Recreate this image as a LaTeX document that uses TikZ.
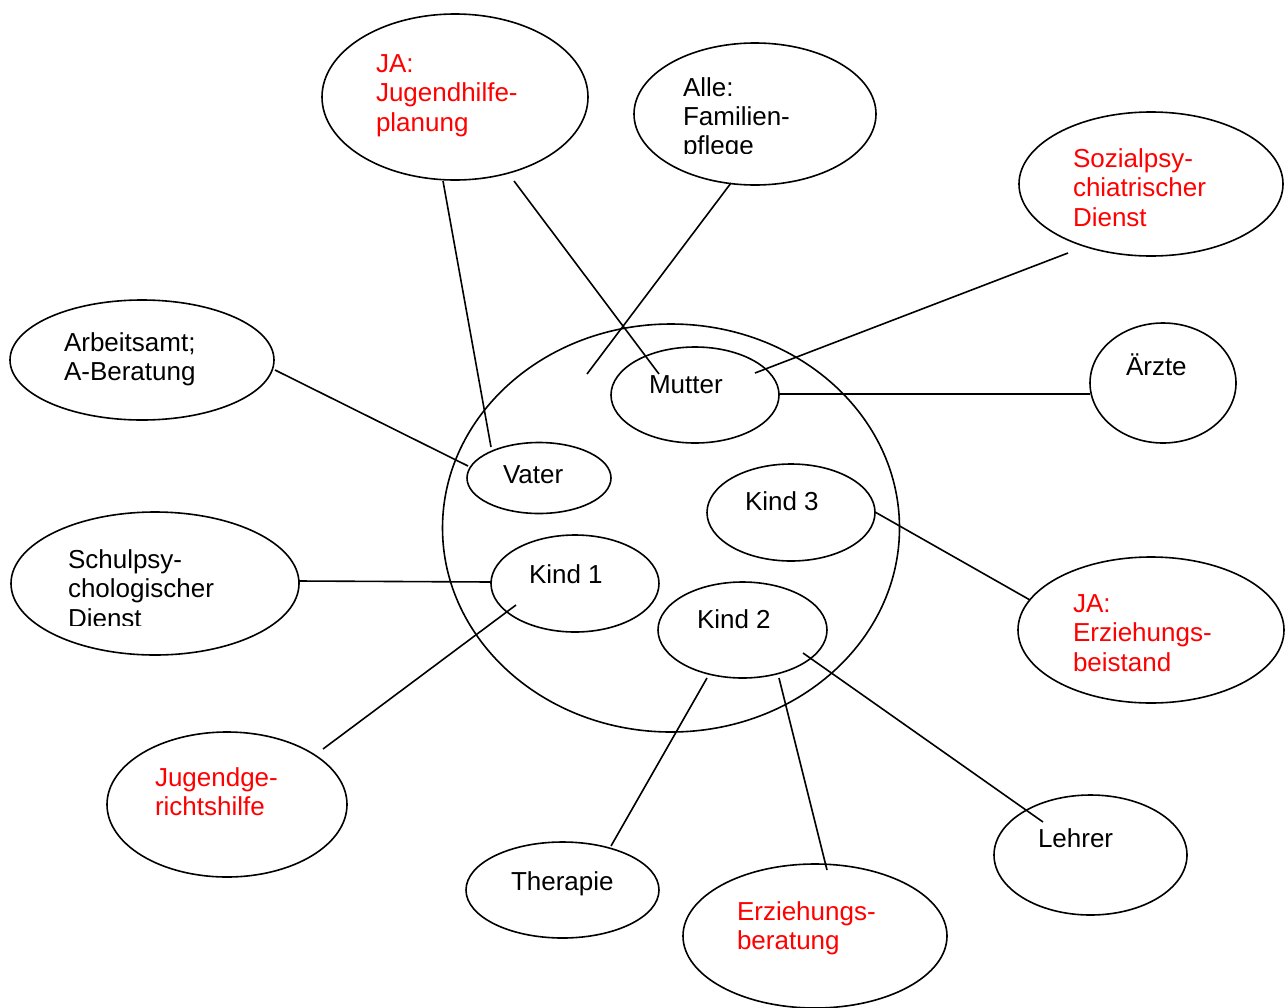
\documentclass[tikz,border=0pt]{standalone}
\usepackage{fontspec}
\setmainfont{Liberation Sans}
\usetikzlibrary{shapes.geometric}
\definecolor{lblred}{RGB}{255,0,0}
\newcommand\mylines[1]{\parbox[t]{400pt}{\raggedright #1}}
\tikzset{
  oval/.style={draw=black, line width=1.6pt, ellipse, inner sep=0pt, outer sep=0pt},
  conn/.style={draw=black, line width=1.6pt},
  lbl/.style={anchor=base west, inner sep=0pt, outer sep=0pt, font=\fontsize{26}{29.5}\selectfont},
  redlbl/.style={lbl, text=lblred},
}
\begin{document}
\begin{tikzpicture}[x=1pt, y=-1pt]
\useasboundingbox (0,0) rectangle (1285,1007);
% ellipses
\node[oval, minimum width=266pt, minimum height=166pt] (ja) at (455,97) {};
\node[oval, minimum width=242pt, minimum height=142pt] (alle) at (755,114) {};
\node[oval, minimum width=264pt, minimum height=144pt] (sozial) at (1151,184) {};
\node[oval, minimum width=264pt, minimum height=120pt] (arbeit) at (142,360) {};
\node[oval, minimum width=457pt, minimum height=408pt] (family) at (671,528) {};
\node[oval, minimum width=168pt, minimum height=96pt] (mutter) at (695,395) {};
\node[oval, minimum width=146pt, minimum height=120pt] (aerzte) at (1163,383) {};
\node[oval, minimum width=144pt, minimum height=71pt] (vater) at (539,478) {};
\node[oval, minimum width=168pt, minimum height=97pt] (kind3) at (791,512.5) {};
\node[oval, minimum width=288pt, minimum height=143pt] (schul) at (155,583.5) {};
\node[oval, minimum width=168pt, minimum height=97pt] (kind1) at (575,583.5) {};
\node[oval, minimum width=169pt, minimum height=96pt] (kind2) at (742.5,630) {};
\node[oval, minimum width=266pt, minimum height=146pt] (erzb) at (1151,630) {};
\node[oval, minimum width=240pt, minimum height=145pt] (jgh) at (227,804.5) {};
\node[oval, minimum width=193pt, minimum height=120pt] (lehrer) at (1090.5,855) {};
\node[oval, minimum width=193pt, minimum height=96pt] (therapie) at (562.5,890) {};
\node[oval, minimum width=264pt, minimum height=144pt] (erzber) at (815,936) {};
% labels
\node[redlbl] (tja) at (376,72) {\mylines{JA:\\Jugendhilfe-\\planung}};
\begin{scope}
\clip (600,60) rectangle (900,153.5);
\node[lbl, font=\fontsize{26}{29}\selectfont] (talle) at (683,96) {\mylines{Alle:\\Familien-\\pflege}};
\end{scope}
\node[redlbl] (tsozial) at (1073,167) {\mylines{Sozialpsy-\\chiatrischer\\Dienst}};
\node[lbl] (tarbeit) at (64,351) {\mylines{Arbeitsamt;\\A-Beratung}};
\node[lbl] (tmutter) at (649,393) {Mutter};
\node[lbl] (taerzte) at (1126,375) {Ärzte};
\node[lbl] (tvater) at (503,483) {Vater};
\node[lbl] (tkind3) at (745,510) {Kind 3};
\begin{scope}
\clip (40,530) rectangle (290,625.5);
\node[lbl] (tschul) at (68,568) {\mylines{Schulpsy-\\chologischer\\Dienst}};
\end{scope}
\node[lbl] (tkind1) at (529,583) {Kind 1};
\node[lbl] (tkind2) at (697,628) {Kind 2};
\node[redlbl] (terzb) at (1073,612) {\mylines{JA:\\Erziehungs-\\beistand}};
\node[redlbl] (tjgh) at (155,786) {\mylines{Jugendge-\\richtshilfe}};
\node[lbl] (tlehrer) at (1038,847) {Lehrer};
\node[lbl] (ttherapie) at (511,890) {Therapie};
\node[redlbl] (terzber) at (737,920) {\mylines{Erziehungs-\\beratung}};
% connectors
\draw[conn] ([shift={(-12,84)}]ja.center) -- ([shift={(-48,-31)}]vater.center);
\draw[conn] ([shift={(59,84)}]ja.center) -- ([shift={(-36,-21)}]mutter.center);
\coordinate (famin) at ([shift={(-84,-154)}]family.center);
\draw[conn] ([shift={(-24,69)}]alle.center) -- (famin);
\draw[conn] ([shift={(-83,69)}]sozial.center) -- ([shift={(60,-22)}]mutter.center);
\draw[conn] ([shift={(84,-1)}]mutter.center) -- ([shift={(-73,11)}]aerzte.center);
\draw[conn] ([shift={(133,10)}]arbeit.center) -- ([shift={(-71,-12)}]vater.center);
\draw[conn] ([shift={(144,-2.5)}]schul.center) -- ([shift={(-84,-1.5)}]kind1.center);
\draw[conn] ([shift={(-59,21.5)}]kind1.center) -- ([shift={(96,-55.5)}]jgh.center);
\draw[conn] ([shift={(84,-0.5)}]kind3.center) -- ([shift={(-121,-30)}]erzb.center);
\draw[conn] ([shift={(-35.5,48)}]kind2.center) -- ([shift={(48.5,-44)}]therapie.center);
\draw[conn] ([shift={(36.5,48)}]kind2.center) -- ([shift={(12,-66)}]erzber.center);
\draw[conn] ([shift={(60.5,23)}]kind2.center) -- ([shift={(-47.5,-33)}]lehrer.center);
\end{tikzpicture}
\end{document}
